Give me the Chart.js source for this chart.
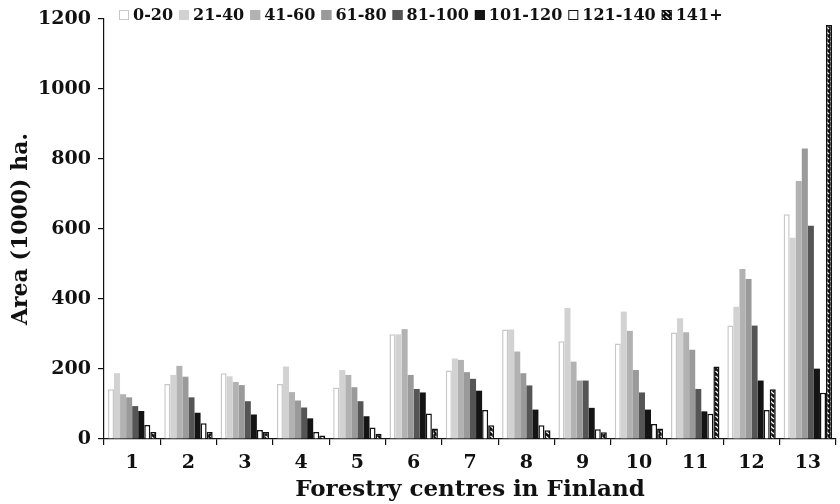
<!DOCTYPE html>
<html>
<head>
<meta charset="utf-8">
<script src="https://cdn.jsdelivr.net/npm/chart.js@4.4.1/dist/chart.umd.min.js"></script>
<style>
  html, body { margin: 0; padding: 0; background: #fff; }
  #wrap { width: 840px; height: 504px; }
</style>
</head>
<body>
<div id="wrap"><canvas id="c" width="840" height="504"></canvas></div>
<script>
// Forest area by age class (years) in each forestry centre, 1000 ha
const centres = ['1','2','3','4','5','6','7','8','9','10','11','12','13'];
const ageClasses = ['0-20','21-40','41-60','61-80','81-100','101-120','121-140','141+'];

const age0_20    = [142, 157, 188, 157, 147, 299, 196, 313, 279, 273, 304, 324, 642];
const age21_40   = [188, 183, 179, 207, 197, 299, 230, 313, 374, 364, 345, 378, 575];
const age41_60   = [128, 209, 163, 134, 183, 314, 226, 250, 221, 309, 305, 486, 737];
const age61_80   = [119, 178, 154, 110, 148, 183, 191, 188, 167, 197, 255, 457, 830];
const age81_100  = [ 94, 119, 108,  90, 108, 143, 172, 153, 167, 133, 143, 324, 609];
const age101_120 = [ 80,  75,  70,  59,  65, 133, 138,  84,  89,  84,  79, 167, 201];
const age121_140 = [ 40,  45,  26,  20,  33,  73,  83,  39,  28,  43,  72,  83, 132];
const age141plus = [ 20,  20,  20,  10,  15,  30,  39,  25,  19,  30, 207, 142, 1183];

const yTicks = [0, 200, 400, 600, 800, 1000, 1200];

const serif = "'DejaVu Serif', 'Liberation Serif', serif";

// Hatched fill for the oldest age class
function hatch(g0) {
  const p = document.createElement('canvas');
  p.width = 5; p.height = 5;
  const g = p.getContext('2d');
  g.fillStyle = '#111';
  g.fillRect(0, 0, 5, 5);
  g.strokeStyle = '#fff';
  g.lineWidth = 1.2;
  g.beginPath();
  g.moveTo(0.5, 1); g.lineTo(4, 4);
  g.stroke();
  return g0.createPattern(p, 'repeat');
}
const ctx = document.getElementById('c').getContext('2d');
const hatchFill = hatch(ctx);

const seriesValues = [age0_20, age21_40, age41_60, age61_80, age81_100, age101_120, age121_140, age141plus];
const fills   = ['#ffffff', '#d2d2d2', '#b2b2b2', '#9a9a9a', '#555555', '#141414', '#ffffff', hatchFill];
const borders = ['#c8c8c8', '#d2d2d2', '#b2b2b2', '#9a9a9a', '#555555', '#141414', '#111111', '#111111'];
const bWidths = [1.5, 0, 0, 0, 0, 0, 1.5, 1.5];

const datasets = ageClasses.map((name, i) => ({
  label: name,
  data: seriesValues[i],
  backgroundColor: fills[i],
  borderColor: borders[i],
  borderWidth: bWidths[i],
  categoryPercentage: 0.86,
  barPercentage: 1.0
}));

// Single-row legend drawn across the top of the plot area
const rowLegend = {
  id: 'rowLegend',
  afterDraw(chart) {
    const g = chart.ctx;
    const area = chart.chartArea;
    let x = area.left + 15;
    const y = 15;
    g.save();
    g.font = `bold 16px ${serif}`;
    g.textBaseline = 'middle';
    g.textAlign = 'left';
    chart.data.datasets.forEach(ds => {
      const s = 10;
      g.fillStyle = ds.backgroundColor;
      g.fillRect(x, y - s / 2, s, s);
      g.lineWidth = 1;
      g.strokeStyle = ds.borderWidth ? ds.borderColor : ds.backgroundColor;
      g.strokeRect(x + 0.5, y - s / 2 + 0.5, s - 1, s - 1);
      x += s + 4;
      g.fillStyle = '#111';
      g.fillText(ds.label, x, y + 1);
      x += g.measureText(ds.label).width + 6;
    });
    g.restore();
  }
};

new Chart(ctx, {
  type: 'bar',
  data: { labels: centres, datasets },
  plugins: [rowLegend],
  options: {
    responsive: false,
    animation: false,
    devicePixelRatio: 1,
    layout: { padding: { top: 19, right: 4, left: 0, bottom: 0 } },
    plugins: {
      legend: { display: false },
      tooltip: { enabled: false }
    },
    scales: {
      x: {
        afterFit: (axis) => { axis.height = 65; },
        grid: { display: true, drawOnChartArea: false, color: '#111', tickLength: 6, offset: true, lineWidth: 1.2 },
        border: { color: '#111', width: 1.2 },
        ticks: { color: '#111', font: { family: serif, size: 19, weight: 'bold' }, padding: 7 },
        title: {
          display: true,
          text: 'Forestry centres in Finland',
          color: '#111',
          font: { family: serif, size: 23, weight: 'bold' },
          padding: { top: 0, bottom: 0 }
        }
      },
      y: {
        min: 0,
        max: 1200,
        afterBuildTicks: (axis) => { axis.ticks = yTicks.map(v => ({ value: v })); },
        afterFit: (axis) => { axis.width = 104; },
        grid: { display: true, drawOnChartArea: false, color: '#111', tickLength: 6, lineWidth: 1.2 },
        border: { color: '#111', width: 1.2 },
        ticks: {
          color: '#111',
          font: { family: serif, size: 19, weight: 'bold' },
          padding: 7,
          callback: (v) => String(v)
        },
        title: {
          display: true,
          text: 'Area (1000) ha.',
          color: '#111',
          font: { family: serif, size: 22, weight: 'bold' },
          padding: { top: 8, bottom: 0 }
        }
      }
    }
  }
});
</script>
</body>
</html>
